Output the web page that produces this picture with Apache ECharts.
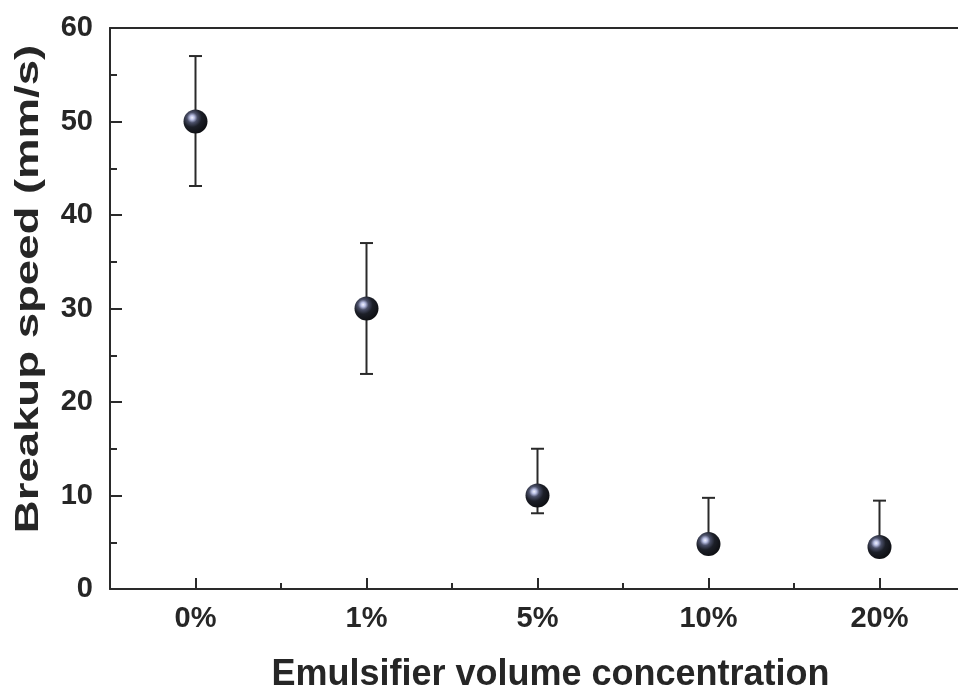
<!DOCTYPE html>
<html>
<head>
<meta charset="utf-8">
<script src="https://cdn.jsdelivr.net/npm/echarts@6/dist/echarts.min.js"></script>
<style>
html,body{margin:0;padding:0;background:#fff;}
#chart{width:958px;height:692px;}
</style>
</head>
<body>
<div id="chart"></div>
<script>
var categories = ['0%', '1%', '5%', '10%', '20%'];
var speedValues = [50, 30, 10, 4.8, 4.5];
var errLow = [43.1, 23, 8.1, 4.2, 4.0];
var errHigh = [57, 37, 15, 9.75, 9.45];
var yTicks = [0, 10, 20, 30, 40, 50, 60];
var xTitle = 'Emulsifier volume concentration';
var yTitle = 'Breakup speed (mm/s)';

var AX = '#2a2a2a';
var TXT = '#262626';
var FONT = '"Liberation Sans", Arial, sans-serif';

var chart = echarts.init(document.getElementById('chart'));

var sphere = new echarts.graphic.RadialGradient(0.36, 0.34, 0.72, [
  {offset: 0, color: '#f2f4ff'},
  {offset: 0.13, color: '#b9bfe4'},
  {offset: 0.3, color: '#4a4f68'},
  {offset: 0.55, color: '#1c1f28'},
  {offset: 1, color: '#0c0d10'}
]);

var errData = categories.map(function (c, i) { return [i, errLow[i], errHigh[i]]; });

chart.setOption({
  animation: false,
  backgroundColor: '#fff',
  grid: {left: 110, right: -7, top: 28, bottom: 103, containLabel: false, outerBoundsMode: 'none'},
  graphic: [
    {
      type: 'text',
      x: 29, y: 289,
      rotation: Math.PI / 2,
      scaleX: 1.38,
      style: {
        text: yTitle,
        font: 'bold 33px "Liberation Sans", Arial, sans-serif',
        fill: TXT,
        align: 'center',
        verticalAlign: 'middle'
      }
    }
  ],
  xAxis: [
    {
      type: 'category', data: categories, position: 'bottom', boundaryGap: true,
      name: xTitle, nameLocation: 'middle', nameGap: 68,
      nameTextStyle: {fontFamily: FONT, fontWeight: 'bold', fontSize: 36, color: TXT, padding: [0, 0, 0, 26]},
      axisLine: {show: true, lineStyle: {color: AX, width: 2}},
      axisTick: {show: true, inside: true, alignWithLabel: true, length: 11, lineStyle: {color: AX, width: 2}},
      axisLabel: {margin: 15, fontFamily: FONT, fontWeight: 'bold', fontSize: 29, color: TXT},
      splitLine: {show: false}
    },
    {
      type: 'category', data: categories, position: 'bottom', boundaryGap: true,
      axisLine: {show: false},
      axisTick: {show: true, inside: true, alignWithLabel: false, length: 6, lineStyle: {color: AX, width: 2}},
      axisLabel: {show: false},
      splitLine: {show: false}
    },
    {
      type: 'category', data: categories, position: 'top',
      axisLine: {show: true, lineStyle: {color: AX, width: 2}},
      axisTick: {show: false},
      axisLabel: {show: false},
      splitLine: {show: false}
    }
  ],
  yAxis: [
    {
      type: 'value', min: yTicks[0], max: yTicks[yTicks.length - 1], interval: 10,
      axisLine: {show: true, lineStyle: {color: AX, width: 2}},
      axisTick: {show: true, inside: true, length: 12, lineStyle: {color: AX, width: 2}},
      minorTick: {show: true, splitNumber: 2, length: 7, lineStyle: {color: AX, width: 2}},
      axisLabel: {margin: 17, fontFamily: FONT, fontWeight: 'bold', fontSize: 29, color: TXT},
      splitLine: {show: false},
      minorSplitLine: {show: false}
    }
  ],
  series: [
    {
      type: 'custom',
      xAxisIndex: 0, yAxisIndex: 0,
      z: 2,
      data: errData,
      renderItem: function (params, api) {
        var x = api.value(0);
        var top = api.coord([x, api.value(2)]);
        var bot = api.coord([x, api.value(1)]);
        var hw = 6.5;
        var st = {stroke: AX, lineWidth: 2, fill: null};
        return {
          type: 'group',
          children: [
            {type: 'line', shape: {x1: top[0], y1: top[1], x2: bot[0], y2: bot[1]}, style: st},
            {type: 'line', shape: {x1: top[0] - hw, y1: top[1], x2: top[0] + hw, y2: top[1]}, style: st},
            {type: 'line', shape: {x1: bot[0] - hw, y1: bot[1], x2: bot[0] + hw, y2: bot[1]}, style: st}
          ]
        };
      }
    },
    {
      type: 'scatter',
      xAxisIndex: 0, yAxisIndex: 0,
      z: 5,
      symbol: 'circle',
      symbolSize: 24,
      data: speedValues,
      itemStyle: {color: sphere, opacity: 1}
    }
  ]
});
</script>
</body>
</html>
